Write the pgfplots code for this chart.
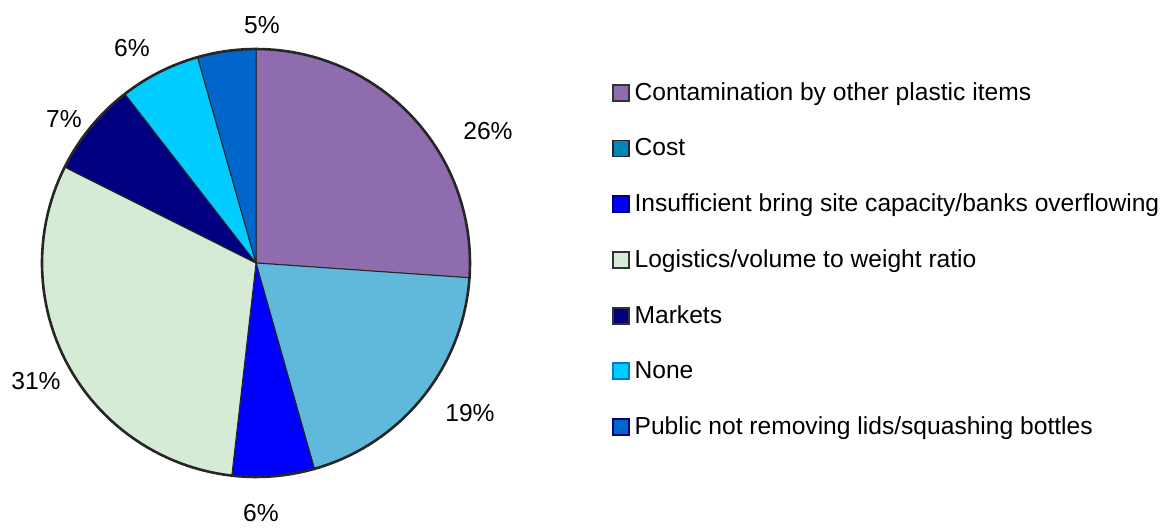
\documentclass[border=0pt]{standalone}
\usepackage{fontspec}
\setmainfont{Liberation Sans}
\usepackage{pgfplots}
\pgfplotsset{compat=1.18}
\definecolor{cCont}{HTML}{8F6CAE}
\definecolor{cCost}{HTML}{60B8DB}
\definecolor{cCostLeg}{HTML}{0086B8}
\definecolor{cIns}{HTML}{0000FF}
\definecolor{cLog}{HTML}{D6EBD6}
\definecolor{cMark}{HTML}{000080}
\definecolor{cNone}{HTML}{00CCFF}
\definecolor{cPub}{HTML}{0066CC}
\def\cx{256}
\def\cy{260}
\def\rr{214}
% slice: start cumulative %, end cumulative %, colour
\newcommand{\slice}[3]{%
  \pgfmathsetmacro{\aS}{90-3.6*#2}%
  \pgfmathsetmacro{\aE}{90-3.6*#1}%
  \addplot[fill=#3, draw=black!85, line width=0.5pt, domain=\aS:\aE, samples=80, variable=\t, forget plot]
    ({\cx+\rr*cos(\t)},{\cy+\rr*sin(\t)}) -- (axis cs:\cx,\cy) -- cycle;
}
\begin{document}
\begin{tikzpicture}
\begin{axis}[
  hide axis, scale only axis,
  width=585pt, height=261.5pt,
  xmin=0, xmax=1170, ymin=0, ymax=523,
  clip=false,
  font=\fontsize{12.3}{14.5}\selectfont,
  legend style={at={(axis cs:612,444)}, anchor=north west, draw=none, fill=none,
    font=\fontsize{12.3}{14.5}\selectfont, row sep=14.55pt, inner sep=0pt,
    nodes={inner xsep=2.2pt, inner ysep=1.5pt}},
  legend cell align=left,
  legend image code/.code={\draw[#1, line width=0.9pt] (0pt,-4pt) rectangle (8pt,4pt);},
]
\path (axis cs:0,0) (axis cs:1170,523);
\slice{0}{26.1}{cCont}
\slice{26.1}{45.6}{cCost}
\slice{45.6}{51.8}{cIns}
\slice{51.8}{82.4}{cLog}
\slice{82.4}{89.5}{cMark}
\slice{89.5}{95.6}{cNone}
\slice{95.6}{100}{cPub}
\addplot[draw=black!85, line width=1.3pt, domain=0:360, samples=180, variable=\t, forget plot]
  ({\cx+\rr*cos(\t)},{\cy+\rr*sin(\t)});
\addlegendimage{fill=cCont, draw=black!80}
\addlegendentry{Contamination by other plastic items}
\addlegendimage{fill=cCostLeg, draw=black!85}
\addlegendentry{Cost}
\addlegendimage{fill=cIns, draw=cMark}
\addlegendentry{Insufficient bring site capacity/banks overflowing}
\addlegendimage{fill=cLog, draw=black!80}
\addlegendentry{Logistics/volume to weight ratio}
\addlegendimage{fill=cMark, draw=black!80}
\addlegendentry{Markets}
\addlegendimage{fill=cNone, draw=cPub!80!cNone}
\addlegendentry{None}
\addlegendimage{fill=cPub, draw=cMark}
\addlegendentry{Public not removing lids/squashing bottles}
\node at (axis cs:488,392) {26\%};
\node at (axis cs:470,110) {19\%};
\node at (axis cs:261,10) {6\%};
\node at (axis cs:36,142) {31\%};
\node at (axis cs:64,404) {7\%};
\node at (axis cs:132,475) {6\%};
\node at (axis cs:262,498) {5\%};
\end{axis}
\end{tikzpicture}
\end{document}
